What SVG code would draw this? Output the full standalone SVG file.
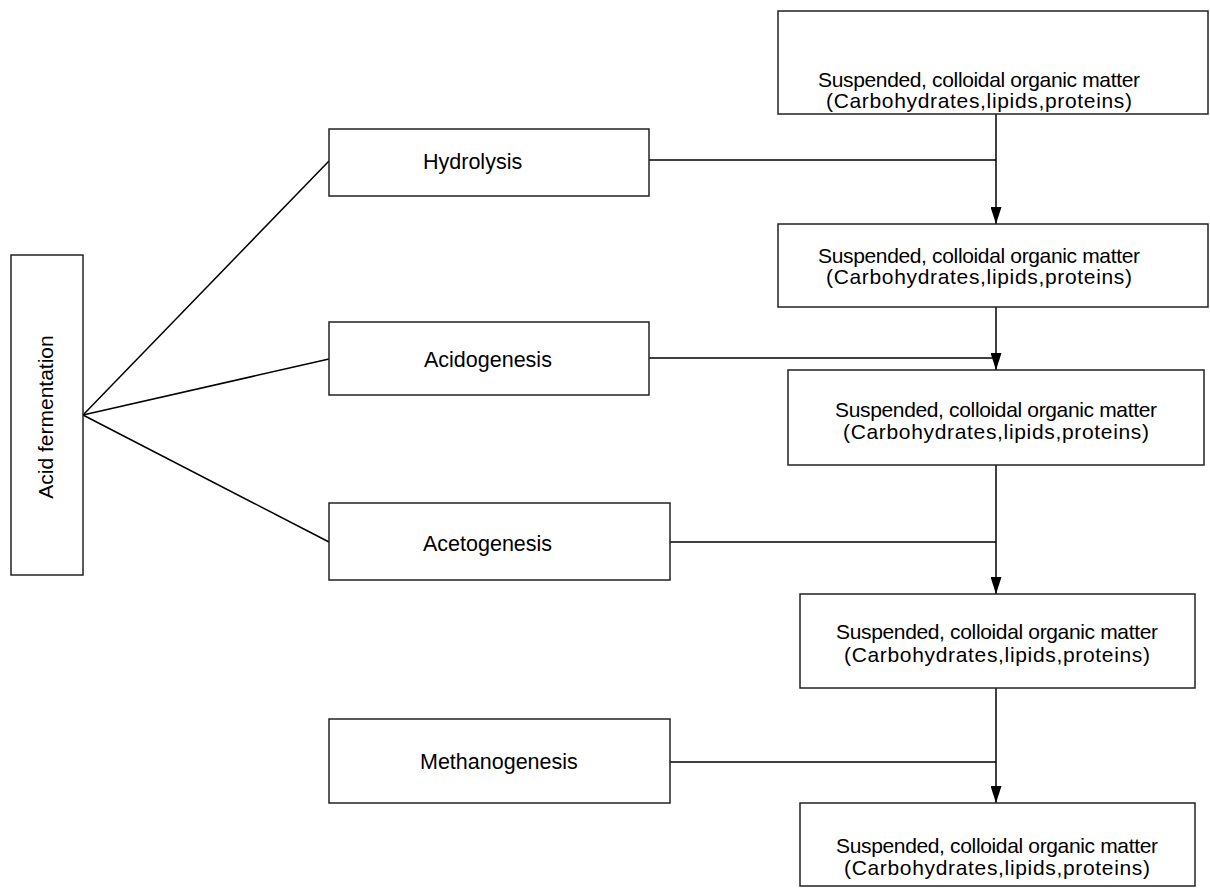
<svg xmlns="http://www.w3.org/2000/svg" width="1210" height="895" viewBox="0 0 1210 895">
<defs>
<style>
.box{fill:#fff;stroke:#222;stroke-width:1.5}
.t{font-family:"Liberation Sans",Arial,sans-serif;font-size:21px;fill:#000;text-anchor:middle}
.l{font-family:"Liberation Sans",Arial,sans-serif;font-size:21.5px;fill:#000}
.c{stroke:#000;stroke-width:1.5;fill:none}
</style>
<marker id="arr" viewBox="0 0 17 11" refX="17" refY="5.5" markerWidth="17" markerHeight="11" orient="auto" markerUnits="userSpaceOnUse">
<path d="M0,0 L17,5.5 L0,11 Z" fill="#000"/>
</marker>
</defs>
<rect width="1210" height="895" fill="#fff"/>
<g id="connectors">
<line class="c" x1="83" y1="415" x2="329" y2="161"/>
<line class="c" x1="83" y1="415" x2="329" y2="359"/>
<line class="c" x1="83" y1="415" x2="329" y2="542"/>
<line class="c" x1="649" y1="160" x2="996" y2="160"/>
<line class="c" x1="649" y1="358" x2="996" y2="358"/>
<line class="c" x1="670" y1="542" x2="996" y2="542"/>
<line class="c" x1="670" y1="762" x2="996" y2="762"/>
<line class="c" x1="996" y1="114" x2="996" y2="224" marker-end="url(#arr)"/>
<line class="c" x1="996" y1="307" x2="996" y2="370" marker-end="url(#arr)"/>
<line class="c" x1="996" y1="465" x2="996" y2="594" marker-end="url(#arr)"/>
<line class="c" x1="996" y1="688" x2="996" y2="803" marker-end="url(#arr)"/>
</g>
<g id="acid-fermentation">
<rect class="box" x="11" y="255" width="72" height="320"/>
<text class="t" transform="translate(53,417) rotate(-90)">Acid fermentation</text>
</g>
<g id="hydrolysis">
<rect class="box" x="329" y="129" width="320" height="67"/>
<text class="l" x="423" y="169">Hydrolysis</text>
</g>
<g id="acidogenesis">
<rect class="box" x="329" y="322" width="320" height="73"/>
<text class="l" x="424" y="367">Acidogenesis</text>
</g>
<g id="acetogenesis">
<rect class="box" x="329" y="503" width="341" height="77"/>
<text class="l" x="423" y="551">Acetogenesis</text>
</g>
<g id="methanogenesis">
<rect class="box" x="329" y="719" width="341" height="84"/>
<text class="l" x="420" y="769">Methanogenesis</text>
</g>
<g id="matter-1">
<rect class="box" x="778" y="11" width="430" height="103"/>
<text class="t" x="979" y="87" textLength="322">Suspended, colloidal organic matter</text>
<text class="t" x="979" y="108" textLength="306">(Carbohydrates,lipids,proteins)</text>
</g>
<g id="matter-2">
<rect class="box" x="778" y="224" width="430" height="83"/>
<text class="t" x="979" y="263" textLength="322">Suspended, colloidal organic matter</text>
<text class="t" x="979" y="284" textLength="306">(Carbohydrates,lipids,proteins)</text>
</g>
<g id="matter-3">
<rect class="box" x="788" y="370" width="416" height="95"/>
<text class="t" x="996" y="417" textLength="322">Suspended, colloidal organic matter</text>
<text class="t" x="996" y="439" textLength="306">(Carbohydrates,lipids,proteins)</text>
</g>
<g id="matter-4">
<rect class="box" x="800" y="594" width="395" height="94"/>
<text class="t" x="997" y="639" textLength="322">Suspended, colloidal organic matter</text>
<text class="t" x="997" y="662" textLength="306">(Carbohydrates,lipids,proteins)</text>
</g>
<g id="matter-5">
<rect class="box" x="800" y="803" width="395" height="83"/>
<text class="t" x="997" y="853" textLength="322">Suspended, colloidal organic matter</text>
<text class="t" x="997" y="875" textLength="306">(Carbohydrates,lipids,proteins)</text>
</g>
</svg>
